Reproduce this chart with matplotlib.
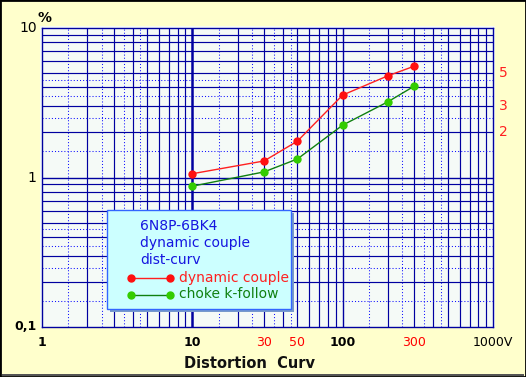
import matplotlib
matplotlib.use("Agg")
import matplotlib.pyplot as plt
from matplotlib.lines import Line2D
from matplotlib.patches import Rectangle
import numpy as np

# ---- data ----
x_vals = [10, 30, 50, 100, 200, 300]
dyn_couple = [1.06, 1.29, 1.75, 3.56, 4.79, 5.56]
choke_follow = [0.875, 1.09, 1.33, 2.24, 3.21, 4.09]
series_names = ["dynamic couple", "choke k-follow"]
title_lines = ["6N8P-6BK4", "dynamic couple", "dist-curv"]
xtick_vals = [1, 10, 30, 50, 100, 300, 1000]
xtick_labels = ["1", "10", "30", "50", "100", "300", "1000V"]
xtick_colors = ["black", "black", "red", "red", "black", "red", "black"]
ytick_vals = [0.1, 1, 10]
ytick_labels = ["0,1", "1", "10"]
right_vals = [5, 3, 2]
right_labels = ["5", "3", "2"]
xlabel = "Distortion  Curv"

W, H = 526, 377
fig = plt.figure(figsize=(W / 100, H / 100), dpi=100)
fig.patch.set_facecolor("#FFFFCC")

def fx(px):
    return px / W

def fy(py):
    return 1 - py / H

# outer border
fig.patches.append(Rectangle((0, 0), 1, 1, transform=fig.transFigure, fill=False,
                             edgecolor="black", linewidth=2.0, zorder=20))
fig.patches.append(Rectangle((fx(2), fy(376)), fx(522), 2.2 / H, transform=fig.transFigure,
                             facecolor="#555555", edgecolor="none", zorder=20))

L, R, T, B = 42, 493, 28, 327
# slightly larger plot background (behind axes)
fig.patches.append(Rectangle((fx(L - 2), fy(B + 1)), fx(R - L + 4), (B - T + 3) / H,
                             transform=fig.transFigure, facecolor="#F5FAF7", edgecolor="none",
                             zorder=-1))
ax = fig.add_axes([fx(L), fy(B), fx(R - L), (B - T) / H])
ax.set_facecolor("#F5FAF7")
ax.set_xscale("log")
ax.set_yscale("log")
ax.set_xlim(1, 1000)
ax.set_ylim(0.1, 10)

# grid
navy = "#0000A0"
blue = "#1010FF"
for d in [1, 10, 100]:
    for k in range(2, 10):
        ax.axvline(k * d, color=navy, lw=0.85, zorder=1)
    for k in [1.5, 2.5, 3.5, 4.5]:
        ax.axvline(k * d, color=blue, lw=0.75, ls=(0, (1, 2)), zorder=1)
for d in [0.1, 1]:
    for k in range(2, 10):
        ax.axhline(k * d, color=navy, lw=0.85, zorder=1)
    for k in [1.5, 2.5, 3.5, 4.5]:
        ax.axhline(k * d, color=blue, lw=0.75, ls=(0, (1, 2)), zorder=1)
ax.axvline(10, color=navy, lw=1.8, zorder=1)
ax.axvline(100, color=navy, lw=1.0, zorder=1)
ax.axhline(1, color=navy, lw=1.0, zorder=1)
for s in ax.spines.values():
    s.set_color(navy)
    s.set_linewidth(1.0)

ax.set_xticks([])
ax.set_yticks([])
ax.minorticks_off()
ax.tick_params(which="both", length=0, labelbottom=False, labelleft=False)

# data lines
ax.plot(x_vals, dyn_couple, color="#FF2020", lw=1.0, marker="o", ms=5,
        markerfacecolor="#FF1010", markeredgecolor="#FF1010", zorder=5, clip_on=False)
ax.plot(x_vals, choke_follow, color="#108010", lw=1.0, marker="o", ms=5,
        markerfacecolor="#33CC00", markeredgecolor="#33CC00", zorder=5, clip_on=False)

# tick labels
fs = 9
for v, lab, c in zip(xtick_vals, xtick_labels, xtick_colors):
    ax.text(v, -0.03, lab, transform=ax.get_xaxis_transform(), ha="center",
            va="top", fontsize=fs, color=c,
            fontweight="bold" if (c == "black" and lab != "1000V") else "normal")
for v, lab in zip(ytick_vals, ytick_labels):
    ax.text(-0.012, v, lab, transform=ax.get_yaxis_transform(), ha="right", va="center",
            fontsize=fs + 1 if lab != "0,1" else fs, color="black",
            fontweight="bold" if lab == "0,1" else "normal")
for v, lab in zip(right_vals, right_labels):
    ax.text(1.013, v, lab, transform=ax.get_yaxis_transform(), ha="left", va="center",
            fontsize=fs + 1, color="#FF2020")
fig.text(fx(37), fy(18), "%", fontsize=fs + 1, ha="left", va="center", color="black", fontweight="bold")
fig.text(fx(250), fy(363), xlabel, fontsize=10.5, ha="center", va="center",
         color="#111111", fontweight="bold")

# legend box
lx0, ly0, lx1, ly1 = 107, 210, 291, 309
fig.patches.append(Rectangle((fx(lx0 + 3), fy(ly1 + 3)), fx(lx1 - lx0), (ly1 - ly0) / H,
                             transform=fig.transFigure, facecolor="#7799CC", edgecolor="none", zorder=9))
fig.patches.append(Rectangle((fx(lx0), fy(ly1)), fx(lx1 - lx0), (ly1 - ly0) / H,
                             transform=fig.transFigure, facecolor="#CCFFFF", edgecolor="#3366FF",
                             linewidth=1.0, zorder=10))
for i, t in enumerate(title_lines):
    fig.text(fx(140), fy(226 + 17 * i), t, fontsize=10, color="#1515E0", ha="left", va="center", zorder=11)
leg_colors = [("#FF2020", "#FF1010"), ("#108010", "#33CC00")]
for i, (name, (lc, mc)) in enumerate(zip(series_names, leg_colors)):
    yy = fy(278 + 16.5 * i)
    fig.lines.append(Line2D([fx(131), fx(170)], [yy, yy], transform=fig.transFigure, color=lc,
                            lw=1.0, marker="o", ms=5, markerfacecolor=mc, markeredgecolor=mc, zorder=11))
    fig.text(fx(179), yy, name, fontsize=10, color=lc if i == 0 else "#108010",
             ha="left", va="center", zorder=11)

fig.savefig("out.png", dpi=100, facecolor=fig.get_facecolor())
